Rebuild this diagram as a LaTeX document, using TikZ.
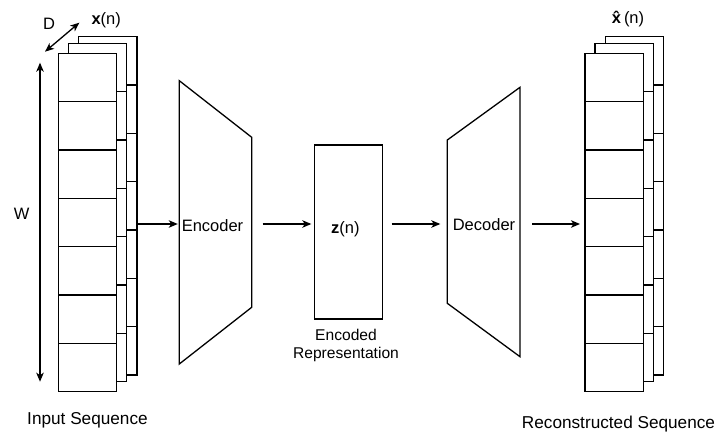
\documentclass[tikz,border=0pt]{standalone}
\usepackage{fontspec}
\setmainfont{Liberation Sans}
\usetikzlibrary{arrows.meta}
\begin{document}
\begin{tikzpicture}[x=1pt,y=-1pt,
  every node/.style={inner sep=0pt,outer sep=0pt},
  lw/.style={line width=1.3pt},
  arr/.style={lw,-{Stealth[length=9pt,width=7.5pt,inset=2.5pt]}},
  dbl/.style={lw,{Stealth[length=9pt,width=7.5pt,inset=2.5pt]}-{Stealth[length=9pt,width=7.5pt,inset=2.5pt]}},
  layer/.style={draw,lw,fill=white,minimum width=58.4pt,minimum height=338.3pt,anchor=north west},
  lbl/.style={anchor=base,font=\fontsize{16.5}{19}\selectfont},
  biglbl/.style={anchor=base,font=\fontsize{17.2}{20}\selectfont},
  trap/.style={lw,line join=miter}
]
\useasboundingbox (0,0) rectangle (725,441);

\newcommand\seqstack[2]{%
  \node[layer] (#1back) at (#2+20.4,36.6) {};
  \foreach \i in {1,...,6} \draw[lw] ([yshift=-\i*48.33pt]#1back.north west) -- ++(58.4,0);
  \node[layer] (#1mid) at (#2+10,43.3) {};
  \foreach \i in {1,...,6} \draw[lw] ([yshift=-\i*48.33pt]#1mid.north west) -- ++(58.4,0);
  \node[layer] (#1front) at (#2,53.3) {};
  \foreach \i in {1,...,6} \draw[lw] ([yshift=-\i*48.33pt]#1front.north west) -- ++(58.4,0);
}

% stacks
\seqstack{in}{58.3}
\seqstack{out}{585}

% dimension arrows
\coordinate (wtop) at (40,62.7);
\coordinate (wbot) at (40,381.7);
\draw[dbl] (wtop) -- (wbot);
\coordinate (dA) at (45,51.7);
\coordinate (dB) at (79.3,22.7);
\draw[dbl] (dA) -- (dB);

\node[lbl] (Dl) at (49,29.3) {D};
\node[lbl] (Wl) at (21.7,219.3) {W};
\node[lbl] (xin) at (106.2,24.5) {\textbf{x}(n)};
\node[lbl] (xout) at (628,23.3) {\textbf{\^{x}}(n)};
\node[biglbl] (inlab) at (87.5,424) {Input Sequence};
\node[biglbl] (outlab) at (618.5,428.3) {Reconstructed Sequence};

% encoder
\draw[trap] (179.3,80.7) -- (251.7,137.3) -- (251.7,307.3) -- (179.3,364) -- cycle;
\node[lbl] (enc) at (212.5,231.7) {Encoder};
\coordinate (encR) at (251.7,224);

% latent box
\node[draw,lw,minimum width=68pt,minimum height=174pt] (zbox) at (348.3,232) {};
\node[lbl] (zl) at (345.3,233.3) {\textbf{z}(n)};
\node[anchor=base,align=center,font=\fontsize{15.6}{17.6}\selectfont] (zlab) at (346,358.3) {Encoded\\Representation};

% decoder
\draw[trap] (447.3,140) -- (520,87.3) -- (520,356.7) -- (447.3,303.3) -- cycle;
\node[lbl] (dec) at (484,230) {Decoder};
\coordinate (decL) at (447.3,224);
\coordinate (decR) at (520,224);

% connectors
\draw[arr,shorten >=4pt] (inback.east |- encR) -- (enc.west |- encR);
\draw[arr,shorten <=11pt,shorten >=3pt] (encR) -- (zbox.west |- encR);
\draw[arr,shorten >=7pt] (zbox.east |- decL) ++(9.4,0) -- (decL);
\draw[arr,shorten <=12.3pt,shorten >=5pt] (decR) -- (outfront.west |- decR);
\end{tikzpicture}
\end{document}
